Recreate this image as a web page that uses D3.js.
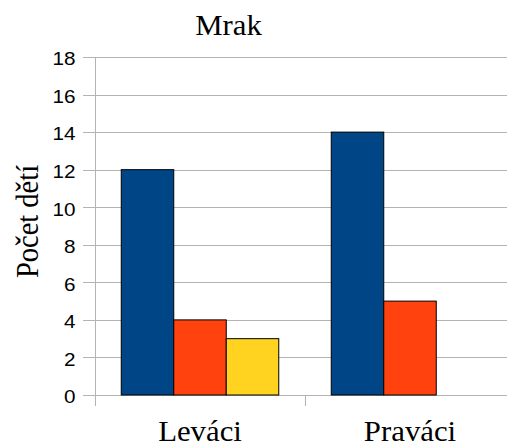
<!DOCTYPE html>
<html><head><meta charset="utf-8">
<script src="https://cdn.jsdelivr.net/npm/d3@7/dist/d3.min.js"></script>
<style>body{margin:0;background:#fff}svg{display:block}</style>
</head><body>
<script>
const categories = ["Leváci", "Praváci"];
const seriesNames = ["A", "B", "C"];
const seriesValues = [
  [12, 14],
  [4, 5],
  [3, 0]
];
const seriesColors = ["#004586", "#ff420e", "#ffd320"];
const yTicks = [0, 2, 4, 6, 8, 10, 12, 14, 16, 18];
const chartTitle = "Mrak";
const yTitle = "Počet dětí";

(function () {
const W = 507, H = 448;
const pL = 95, pR = 515, pT = 57, pB = 395;
const serif = "'Liberation Serif', 'Times New Roman', serif";
const sans = "'Liberation Sans', Arial, sans-serif";
const svg = d3.select("body").append("svg").attr("width", W).attr("height", H);

const x = d3.scaleBand().domain(categories).range([pL, pR]).paddingInner(0).paddingOuter(0);
const inner = d3.scaleBand().domain(seriesNames).range([x.bandwidth() * 0.125, x.bandwidth() * 0.875]);
const y = d3.scaleLinear().domain([0, 18]).range([pB, pT]);

// grid
svg.append("g").selectAll("line").data(yTicks).join("line")
  .attr("x1", pL - 12).attr("x2", pR)
  .attr("y1", d => Math.round(y(d)) + 0.5).attr("y2", d => Math.round(y(d)) + 0.5)
  .attr("stroke", "#b3b3b3").attr("stroke-width", 1);

// y axis line
svg.append("line").attr("x1", pL + 0.5).attr("x2", pL + 0.5)
  .attr("y1", pT).attr("y2", pB + 11).attr("stroke", "#b3b3b3");
// x category boundary ticks
const bounds = categories.map(c => x(c) + x.bandwidth());
svg.append("g").selectAll("line").data(bounds).join("line")
  .attr("x1", d => Math.round(d) + 0.5).attr("x2", d => Math.round(d) + 0.5)
  .attr("y1", pB).attr("y2", pB + 11).attr("stroke", "#b3b3b3");

// y labels
svg.append("g").selectAll("text").data(yTicks).join("text")
  .attr("transform", d => `translate(75.5,${y(d) + 8.3}) scale(1.15,1)`)
  .attr("text-anchor", "end")
  .attr("font-family", sans).attr("font-size", 18)
  .attr("fill", "#000").text(d => d);

// bars
const rows = [];
categories.forEach((c, ci) => seriesNames.forEach((s, si) => {
  const v = seriesValues[si][ci];
  if (v > 0) rows.push({ c, s, v, color: seriesColors[si] });
}));
svg.append("g").selectAll("rect").data(rows).join("rect")
  .attr("x", d => x(d.c) + inner(d.s))
  .attr("y", d => y(d.v))
  .attr("width", inner.bandwidth())
  .attr("height", d => y(0) - y(d.v))
  .attr("fill", d => d.color)
  .attr("stroke", "#000").attr("stroke-width", 1);

// category labels
svg.append("g").selectAll("text").data(categories).join("text")
  .attr("transform", d => `translate(${x(d) + x.bandwidth() / 2},441) scale(1.08,1)`)
  .attr("text-anchor", "middle")
  .attr("font-family", serif).attr("font-size", 28.5)
  .attr("fill", "#000").text(d => d);

// title
svg.append("text").attr("transform", "translate(228.5,35) scale(1.08,1)")
  .attr("text-anchor", "middle")
  .attr("font-family", serif).attr("font-size", 28.5)
  .attr("fill", "#000").text(chartTitle);

// y title
svg.append("text").attr("transform", "translate(37.5,221.5) scale(1.08,1) rotate(-90)")
  .attr("text-anchor", "middle")
  .attr("font-family", serif).attr("font-size", 28.5)
  .attr("fill", "#000").text(yTitle);
})();
</script>
</body></html>
